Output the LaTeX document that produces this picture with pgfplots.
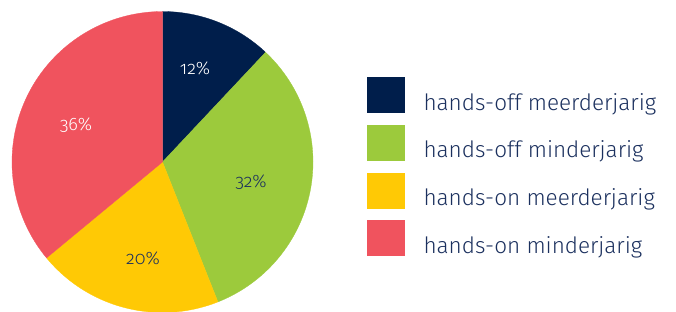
\documentclass[border=0pt]{standalone}
\usepackage{pgfplots}
\pgfplotsset{compat=1.18}
\usepackage{fontspec}
\setmainfont{Fira Sans Light}[Numbers=OldStyle]
\definecolor{navy}{HTML}{001E4B}
\definecolor{lgreen}{HTML}{9CCA3C}
\definecolor{yel}{HTML}{FFC905}
\definecolor{rood}{HTML}{F0535E}
\definecolor{txt}{HTML}{1B305E}
\begin{document}
\begin{tikzpicture}
\begin{axis}[
  x=1pt, y=1pt,
  xmin=0, xmax=676, ymin=0, ymax=312,
  axis line style={draw=none}, ticks=none,
  clip=true,
  legend style={at={(axis cs:364,237)}, anchor=north west, draw=none, fill=none,
    font=\fontsize{22.5}{26}\selectfont\color{txt}, row sep=12.4pt,
    /tikz/every even column/.append style={column sep=0pt},
    nodes={inner xsep=0pt, inner ysep=0pt}},
  legend cell align=left,
  legend image code/.code={\fill (0pt,-10pt) rectangle (37pt,25pt);},
]
% shares in percent: 12, 32, 20, 36 (clockwise from top)
\addplot[fill=navy, draw=navy, line width=0.3pt, domain={90-3.6*12}:{90}, samples=60, variable=\t]
  ({162.5+150.5*cos(\t)}, {150+150.5*sin(\t)}) -- (axis cs:162.5,150) -- cycle;
\addlegendentry{\hspace{19pt}hands-off meerderjarig}
\addplot[fill=lgreen, draw=lgreen, line width=0.3pt, domain={90-3.6*44}:{90-3.6*12}, samples=80, variable=\t]
  ({162.5+150.5*cos(\t)}, {150+150.5*sin(\t)}) -- (axis cs:162.5,150) -- cycle;
\addlegendentry{\hspace{19pt}hands-off minderjarig}
\addplot[fill=yel, draw=yel, line width=0.3pt, domain={90-3.6*64}:{90-3.6*44}, samples=60, variable=\t]
  ({162.5+150.5*cos(\t)}, {150+150.5*sin(\t)}) -- (axis cs:162.5,150) -- cycle;
\addlegendentry{\hspace{19pt}hands-on meerderjarig}
\addplot[fill=rood, draw=rood, line width=0.3pt, domain={90-3.6*100}:{90-3.6*64}, samples=80, variable=\t]
  ({162.5+150.5*cos(\t)}, {150+150.5*sin(\t)}) -- (axis cs:162.5,150) -- cycle;
\addlegendentry{\hspace{19pt}hands-on minderjarig}
\node[white, font=\fontsize{18}{20}\selectfont] at (axis cs:195,244) {12\%};
\node[txt, font=\fontsize{18}{20}\selectfont] at (axis cs:251,130) {32\%};
\node[txt, font=\fontsize{18}{20}\selectfont] at (axis cs:143,54) {20\%};
\node[white, font=\fontsize{18}{20}\selectfont] at (axis cs:76,187) {36\%};
\end{axis}
\end{tikzpicture}
\end{document}
